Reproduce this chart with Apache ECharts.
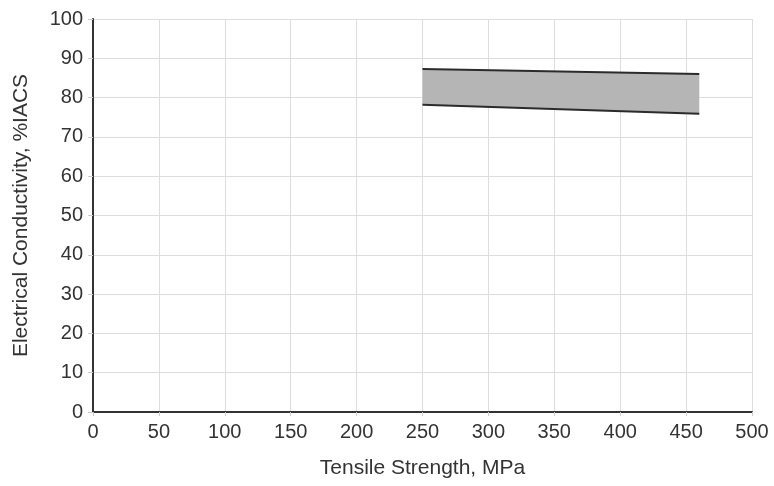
<!DOCTYPE html>
<html>
<head>
<meta charset="utf-8">
<script src="https://cdn.jsdelivr.net/npm/echarts@6/dist/echarts.min.js"></script>
<style>html,body{margin:0;padding:0;background:#fff}#c{width:774px;height:486px}</style>
</head>
<body>
<div id="c"></div>
<script>
var bandX = [250, 460];
var upperValues = [87.3, 86.0];
var lowerValues = [78.2, 75.9];
var xTicks = [0, 50, 100, 150, 200, 250, 300, 350, 400, 450, 500];
var yTicks = [0, 10, 20, 30, 40, 50, 60, 70, 80, 90, 100];

var upperData = bandX.map(function (x, i) { return [x, upperValues[i]]; });
var lowerData = bandX.map(function (x, i) { return [x, lowerValues[i]]; });
var bandData = bandX.map(function (x, i) { return [x, lowerValues[i], upperValues[i]]; });

var chart = echarts.init(document.getElementById('c'));
var font = 'Liberation Sans, Arial, sans-serif';
chart.setOption({
  animation: false,
  grid: { left: 93, right: 22, top: 19, bottom: 74 },
  xAxis: {
    type: 'value', min: xTicks[0], max: xTicks[xTicks.length - 1], interval: 50,
    name: 'Tensile Strength, MPa', nameLocation: 'middle', nameGap: 46,
    nameTextStyle: { fontFamily: font, fontSize: 21, color: '#333' },
    axisLine: { show: true, lineStyle: { color: '#333', width: 2 } },
    axisTick: { show: true, length: 4, lineStyle: { color: '#ccc' } },
    axisLabel: { fontFamily: font, fontSize: 20, color: '#333', margin: 10 },
    splitLine: { show: true, lineStyle: { color: '#dddddd', width: 1 } }
  },
  yAxis: {
    type: 'value', min: yTicks[0], max: yTicks[yTicks.length - 1], interval: 10,
    name: 'Electrical Conductivity, %IACS', nameLocation: 'middle', nameGap: 61,
    nameTextStyle: { fontFamily: font, fontSize: 21, color: '#333' },
    axisLine: { show: true, lineStyle: { color: '#333', width: 2 } },
    axisTick: { show: true, length: 5, lineStyle: { color: '#ccc' } },
    axisLabel: { fontFamily: font, fontSize: 20, color: '#333', margin: 10 },
    splitLine: { show: true, lineStyle: { color: '#dddddd', width: 1 } }
  },
  series: [
    {
      type: 'custom', data: bandData, encode: { x: 0, y: [1, 2] }, z: 1,
      renderItem: function (params, api) {
        if (params.dataIndex !== 0) return null;
        var pts = [];
        var i;
        for (i = 0; i < bandData.length; i++) pts.push(api.coord([bandData[i][0], bandData[i][2]]));
        for (i = bandData.length - 1; i >= 0; i--) pts.push(api.coord([bandData[i][0], bandData[i][1]]));
        return { type: 'polygon', shape: { points: pts }, style: { fill: '#b5b5b5' } };
      }
    },
    {
      type: 'line', data: upperData, symbol: 'none', z: 3,
      lineStyle: { color: '#2b2b2b', width: 2 }
    },
    {
      type: 'line', data: lowerData, symbol: 'none', z: 3,
      lineStyle: { color: '#2b2b2b', width: 2 }
    }
  ]
});
</script>
</body>
</html>
